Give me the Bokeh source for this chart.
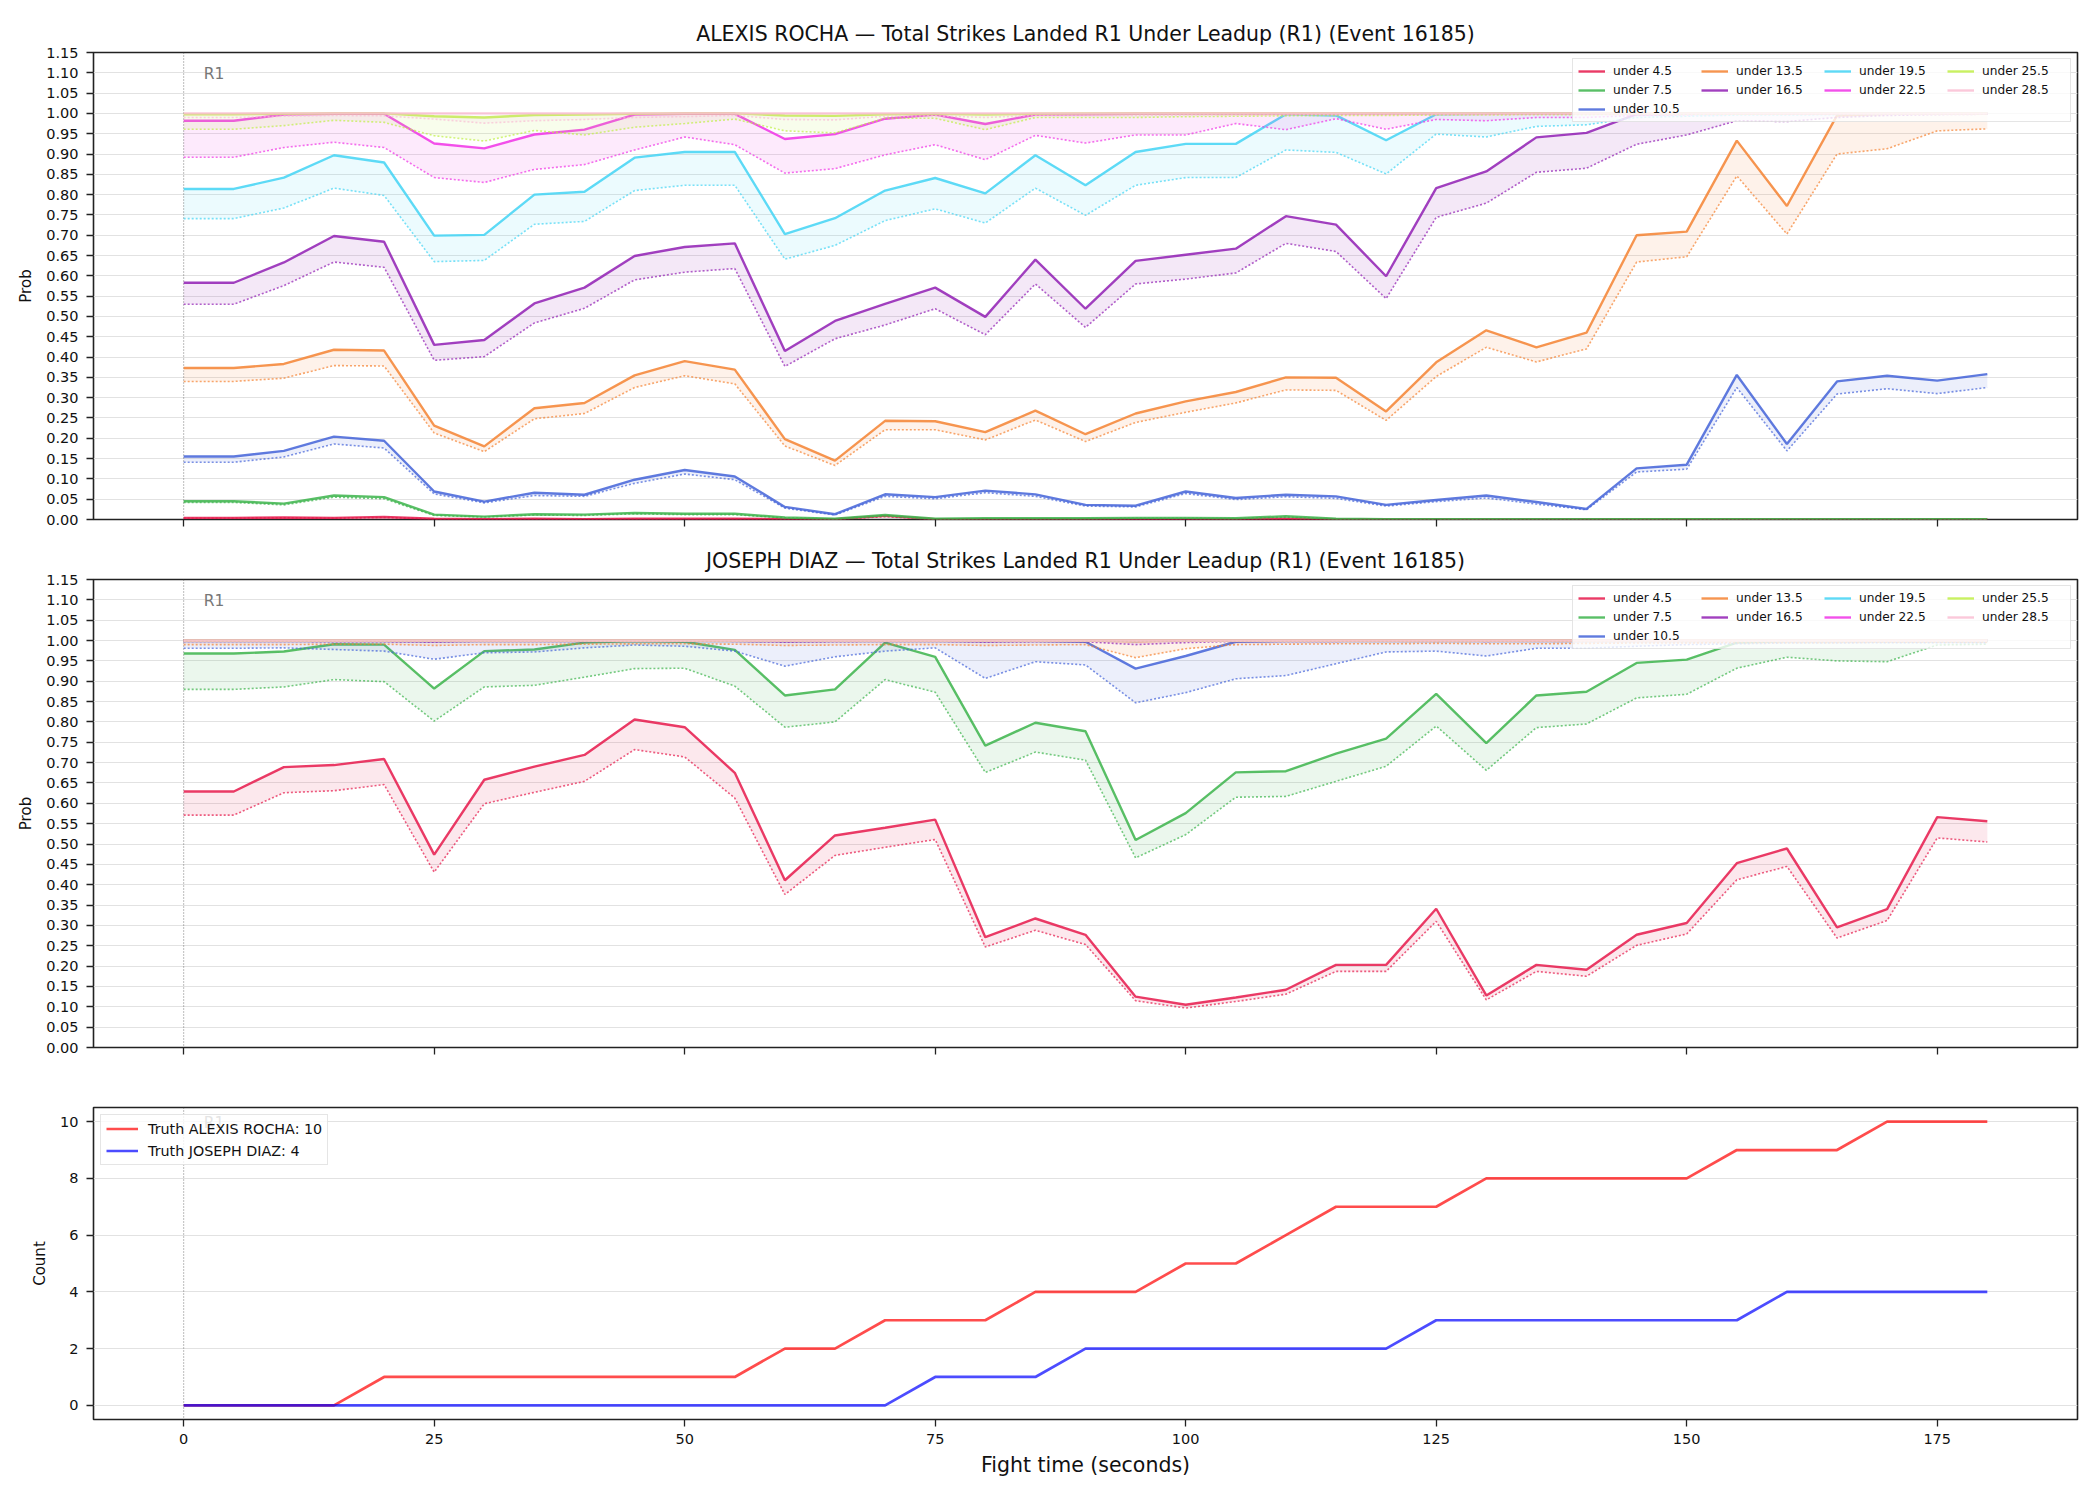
from bokeh.plotting import figure
from bokeh.layouts import column
from bokeh.models import (Range1d, FixedTicker, NumeralTickFormatter, CustomJSTickFormatter,
                          Legend, LegendItem, Span)
from bokeh.core.properties import value
from bokeh.embed import file_html
from bokeh.resources import INLINE

# ---------------- data ----------------
t = list(range(0, 185, 5))  # fight time (s)

line_labels = ["under 4.5", "under 7.5", "under 10.5", "under 13.5", "under 16.5",
               "under 19.5", "under 22.5", "under 25.5", "under 28.5"]
line_colors = ["#e6194B", "#3cb44b", "#4363d8", "#f58231", "#911eb4",
               "#42d4f4", "#f032e6", "#bfef45", "#fabed4"]

# ALEXIS ROCHA: solid (current) and dotted (lead-up) probabilities
r45_hi = [0.004, 0.004, 0.005, 0.004, 0.006, 0.002, 0.001, 0.002, 0.001, 0.002, 0.002, 0.002, 0.001, 0.001, 0.009, 0.001, 0.001, 0.001, 0.001, 0.001, 0.001, 0.001, 0.002, 0.001, 0.001, 0.001, 0.001, 0.001, 0.001, 0.001, 0.001, 0.001, 0.001, 0.001, 0.001, 0.001, 0.001]
r45_lo = [0.003, 0.003, 0.004, 0.003, 0.005, 0.001, 0.001, 0.001, 0.001, 0.001, 0.001, 0.001, 0.001, 0.0, 0.007, 0.0, 0.0, 0.0, 0.0, 0.0, 0.0, 0.0, 0.001, 0.0, 0.0, 0.0, 0.0, 0.0, 0.0, 0.0, 0.0, 0.0, 0.0, 0.0, 0.0, 0.0, 0.0]
r75_hi = [0.045, 0.045, 0.039, 0.059, 0.055, 0.012, 0.007, 0.013, 0.012, 0.016, 0.014, 0.014, 0.005, 0.002, 0.011, 0.002, 0.003, 0.003, 0.003, 0.004, 0.004, 0.003, 0.008, 0.002, 0.001, 0.001, 0.001, 0.001, 0.001, 0.001, 0.001, 0.001, 0.001, 0.001, 0.001, 0.001, 0.001]
r75_lo = [0.042, 0.042, 0.036, 0.055, 0.051, 0.010, 0.006, 0.011, 0.010, 0.014, 0.012, 0.012, 0.004, 0.001, 0.009, 0.001, 0.002, 0.002, 0.002, 0.003, 0.003, 0.002, 0.006, 0.001, 0.0005, 0.0005, 0.0005, 0.0005, 0.0005, 0.0005, 0.0005, 0.0005, 0.0005, 0.0005, 0.0005, 0.0005, 0.0005]
r105_hi = [0.155, 0.155, 0.169, 0.204, 0.194, 0.069, 0.044, 0.066, 0.061, 0.098, 0.122, 0.106, 0.031, 0.013, 0.062, 0.055, 0.071, 0.062, 0.036, 0.034, 0.069, 0.053, 0.061, 0.057, 0.036, 0.048, 0.059, 0.043, 0.026, 0.126, 0.135, 0.356, 0.186, 0.340, 0.354, 0.342, 0.358]
r105_lo = [0.141, 0.141, 0.154, 0.186, 0.176, 0.063, 0.041, 0.059, 0.057, 0.089, 0.112, 0.098, 0.028, 0.011, 0.057, 0.051, 0.066, 0.057, 0.033, 0.031, 0.064, 0.049, 0.056, 0.052, 0.033, 0.044, 0.053, 0.038, 0.024, 0.117, 0.124, 0.325, 0.169, 0.309, 0.322, 0.310, 0.325]
r135_hi = [0.373, 0.373, 0.383, 0.418, 0.416, 0.231, 0.180, 0.274, 0.287, 0.355, 0.390, 0.369, 0.198, 0.145, 0.243, 0.242, 0.215, 0.268, 0.210, 0.261, 0.291, 0.314, 0.350, 0.349, 0.266, 0.387, 0.466, 0.424, 0.460, 0.700, 0.709, 0.933, 0.772, 0.995, 0.999, 0.999, 0.999]
r135_lo = [0.340, 0.340, 0.348, 0.379, 0.378, 0.213, 0.167, 0.248, 0.261, 0.325, 0.354, 0.334, 0.181, 0.133, 0.221, 0.221, 0.196, 0.245, 0.192, 0.239, 0.264, 0.287, 0.319, 0.318, 0.244, 0.352, 0.424, 0.388, 0.420, 0.634, 0.647, 0.846, 0.703, 0.900, 0.913, 0.957, 0.962]
r165_hi = [0.583, 0.583, 0.633, 0.698, 0.684, 0.430, 0.442, 0.532, 0.571, 0.649, 0.671, 0.680, 0.415, 0.489, 0.531, 0.571, 0.499, 0.640, 0.519, 0.637, 0.652, 0.667, 0.747, 0.726, 0.599, 0.816, 0.857, 0.941, 0.952, 0.998, 0.999, 0.999, 0.999, 0.999, 0.999, 0.999, 0.999]
r165_lo = [0.530, 0.530, 0.576, 0.634, 0.621, 0.392, 0.401, 0.484, 0.520, 0.590, 0.609, 0.618, 0.377, 0.445, 0.479, 0.519, 0.455, 0.580, 0.473, 0.580, 0.592, 0.607, 0.680, 0.660, 0.544, 0.744, 0.779, 0.855, 0.865, 0.924, 0.947, 0.982, 0.980, 0.990, 0.995, 0.997, 0.998]
r195_hi = [0.814, 0.814, 0.842, 0.897, 0.879, 0.699, 0.701, 0.800, 0.807, 0.891, 0.905, 0.905, 0.703, 0.742, 0.810, 0.841, 0.803, 0.897, 0.823, 0.905, 0.925, 0.925, 0.998, 0.995, 0.934, 0.998, 0.999, 0.999, 0.999, 0.999, 0.999, 0.999, 0.999, 0.999, 0.999, 0.999, 0.999]
r195_lo = [0.741, 0.741, 0.767, 0.816, 0.798, 0.635, 0.638, 0.727, 0.734, 0.810, 0.823, 0.823, 0.641, 0.675, 0.736, 0.765, 0.730, 0.816, 0.749, 0.823, 0.842, 0.842, 0.910, 0.904, 0.851, 0.949, 0.942, 0.968, 0.972, 0.990, 0.993, 0.996, 0.996, 0.997, 0.998, 0.998, 0.998]
r225_hi = [0.982, 0.982, 0.997, 0.999, 0.999, 0.926, 0.914, 0.948, 0.960, 0.997, 0.999, 0.999, 0.937, 0.949, 0.987, 0.997, 0.974, 0.997, 0.998, 0.999, 0.999, 0.999, 0.999, 0.999, 0.999, 0.999, 0.999, 0.999, 0.999, 0.999, 0.999, 0.999, 0.999, 0.999, 0.999, 0.999, 0.999]
r225_lo = [0.892, 0.892, 0.916, 0.929, 0.916, 0.842, 0.830, 0.862, 0.874, 0.910, 0.942, 0.923, 0.853, 0.864, 0.898, 0.923, 0.886, 0.946, 0.927, 0.947, 0.947, 0.975, 0.960, 0.987, 0.961, 0.985, 0.982, 0.990, 0.990, 0.995, 0.997, 0.998, 0.998, 0.998, 0.999, 0.999, 0.999]
r255_hi = [0.998, 0.998, 0.999, 1.0, 1.0, 0.993, 0.990, 0.996, 0.997, 0.999, 1.0, 1.0, 0.995, 0.994, 0.998, 0.999, 0.997, 0.999, 1.0, 1.0, 1.0, 1.0, 1.0, 1.0, 1.0, 1.0, 1.0, 1.0, 1.0, 1.0, 1.0, 1.0, 1.0, 1.0, 1.0, 1.0, 1.0]
r255_lo = [0.961, 0.961, 0.970, 0.983, 0.978, 0.945, 0.932, 0.958, 0.947, 0.966, 0.975, 0.986, 0.957, 0.952, 0.988, 0.988, 0.960, 0.990, 0.990, 0.990, 0.992, 0.993, 0.994, 0.995, 0.995, 0.996, 0.996, 0.997, 0.997, 0.998, 0.998, 0.998, 0.999, 0.999, 0.999, 0.999, 0.999]
r285_hi = [1.0, 1.0, 1.0, 1.0, 1.0, 1.0, 1.0, 1.0, 1.0, 1.0, 1.0, 1.0, 1.0, 1.0, 1.0, 1.0, 1.0, 1.0, 1.0, 1.0, 1.0, 1.0, 1.0, 1.0, 1.0, 1.0, 1.0, 1.0, 1.0, 1.0, 1.0, 1.0, 1.0, 1.0, 1.0, 1.0, 1.0]
r285_lo = [0.990, 0.990, 0.993, 0.995, 0.994, 0.986, 0.976, 0.982, 0.985, 0.990, 0.992, 0.995, 0.985, 0.984, 0.993, 0.994, 0.990, 0.995, 0.995, 0.995, 0.996, 0.996, 0.996, 0.997, 0.997, 0.997, 0.997, 0.998, 0.998, 0.998, 0.998, 0.999, 0.999, 0.999, 0.999, 0.999, 0.999]

# JOSEPH DIAZ
d45_hi = [0.629, 0.629, 0.689, 0.694, 0.709, 0.474, 0.658, 0.690, 0.719, 0.806, 0.787, 0.675, 0.411, 0.521, 0.540, 0.560, 0.271, 0.317, 0.277, 0.125, 0.105, 0.123, 0.142, 0.203, 0.203, 0.341, 0.128, 0.203, 0.191, 0.277, 0.306, 0.453, 0.489, 0.295, 0.340, 0.566, 0.556]
d45_lo = [0.571, 0.571, 0.626, 0.631, 0.646, 0.431, 0.599, 0.627, 0.654, 0.732, 0.714, 0.613, 0.376, 0.472, 0.492, 0.511, 0.247, 0.288, 0.253, 0.115, 0.097, 0.113, 0.131, 0.187, 0.187, 0.310, 0.117, 0.187, 0.175, 0.251, 0.279, 0.412, 0.445, 0.269, 0.312, 0.515, 0.505]
d75_hi = [0.968, 0.968, 0.973, 0.991, 0.990, 0.882, 0.974, 0.978, 0.995, 0.999, 0.997, 0.977, 0.865, 0.880, 0.995, 0.960, 0.742, 0.798, 0.777, 0.510, 0.576, 0.676, 0.679, 0.722, 0.759, 0.869, 0.748, 0.865, 0.874, 0.945, 0.953, 0.995, 0.999, 0.999, 0.999, 0.999, 0.999]
d75_lo = [0.880, 0.880, 0.886, 0.904, 0.899, 0.802, 0.886, 0.890, 0.910, 0.931, 0.932, 0.888, 0.787, 0.800, 0.904, 0.873, 0.676, 0.726, 0.706, 0.466, 0.523, 0.615, 0.617, 0.654, 0.691, 0.790, 0.681, 0.786, 0.795, 0.859, 0.868, 0.932, 0.959, 0.950, 0.948, 0.989, 0.991]
d105_hi = [0.999, 0.999, 0.999, 0.999, 0.999, 0.998, 0.999, 0.999, 0.999, 0.999, 0.999, 0.999, 0.998, 0.999, 0.999, 0.999, 0.998, 0.999, 0.997, 0.931, 0.962, 0.997, 0.999, 0.999, 0.999, 0.999, 0.999, 0.999, 0.999, 0.999, 0.999, 0.999, 0.999, 0.999, 0.999, 0.999, 0.999]
d105_lo = [0.981, 0.981, 0.982, 0.978, 0.974, 0.954, 0.970, 0.972, 0.982, 0.989, 0.986, 0.974, 0.937, 0.960, 0.974, 0.982, 0.907, 0.948, 0.940, 0.847, 0.872, 0.906, 0.914, 0.943, 0.972, 0.974, 0.962, 0.981, 0.981, 0.986, 0.990, 0.992, 0.994, 0.994, 0.995, 0.995, 0.995]
d135_hi = [1.0, 1.0, 1.0, 1.0, 1.0, 1.0, 1.0, 1.0, 1.0, 1.0, 1.0, 1.0, 1.0, 1.0, 1.0, 1.0, 1.0, 1.0, 1.0, 0.998, 1.0, 1.0, 1.0, 1.0, 1.0, 1.0, 1.0, 1.0, 1.0, 1.0, 1.0, 1.0, 1.0, 1.0, 1.0, 1.0, 1.0]
d135_lo = [0.990, 0.990, 0.990, 0.991, 0.991, 0.988, 0.990, 0.990, 0.991, 0.992, 0.992, 0.991, 0.988, 0.989, 0.990, 0.990, 0.988, 0.989, 0.990, 0.958, 0.980, 0.990, 0.991, 0.992, 0.992, 0.993, 0.992, 0.992, 0.993, 0.994, 0.994, 0.995, 0.995, 0.995, 0.996, 0.996, 0.996]
d165_hi = [1.0, 1.0, 1.0, 1.0, 1.0, 1.0, 1.0, 1.0, 1.0, 1.0, 1.0, 1.0, 1.0, 1.0, 1.0, 1.0, 1.0, 1.0, 1.0, 1.0, 1.0, 1.0, 1.0, 1.0, 1.0, 1.0, 1.0, 1.0, 1.0, 1.0, 1.0, 1.0, 1.0, 1.0, 1.0, 1.0, 1.0]
d165_lo = [0.998, 0.998, 0.998, 0.997, 0.997, 0.996, 0.998, 0.998, 0.998, 0.999, 0.999, 0.998, 0.996, 0.997, 0.998, 0.998, 0.996, 0.997, 0.997, 0.990, 0.995, 0.998, 0.998, 0.998, 0.999, 0.999, 0.998, 0.999, 0.999, 0.999, 0.999, 0.999, 0.999, 0.999, 0.999, 0.999, 0.999]
d195_hi = [1.0] * 37
d195_lo = [0.999, 0.999, 0.999, 0.999, 0.999, 0.999, 0.999, 0.999, 0.999, 0.999, 0.999, 0.999, 0.999, 0.999, 0.999, 0.999, 0.999, 0.999, 0.999, 0.998, 0.999, 0.999, 0.999, 0.999, 0.999, 0.999, 0.999, 0.999, 0.999, 0.999, 0.999, 0.999, 0.999, 0.999, 0.999, 0.999, 0.999]
d225_hi = [1.0] * 37
d225_lo = [0.999] * 37
d255_hi = [1.0] * 37
d255_lo = [0.999] * 37
d285_hi = [1.0] * 37
d285_lo = [0.999] * 37

# cumulative truth counts
rocha_truth = [0, 0, 0, 0, 1, 1, 1, 1, 1, 1, 1, 1, 2, 2, 3, 3, 3, 4, 4, 4, 5, 5, 6, 7, 7, 7, 8, 8, 8, 8, 8, 9, 9, 9, 10, 10, 10]
diaz_truth = [0, 0, 0, 0, 0, 0, 0, 0, 0, 0, 0, 0, 0, 0, 0, 1, 1, 1, 2, 2, 2, 2, 2, 2, 2, 3, 3, 3, 3, 3, 3, 3, 4, 4, 4, 4, 4]

x_ticks = [0, 25, 50, 75, 100, 125, 150, 175]
prob_ticks = [round(0.05 * i, 2) for i in range(24)]
count_ticks = [0, 2, 4, 6, 8, 10]
round_starts = [0]
round_names = ["R1"]

rocha_hi = [r45_hi, r75_hi, r105_hi, r135_hi, r165_hi, r195_hi, r225_hi, r255_hi, r285_hi]
rocha_lo = [r45_lo, r75_lo, r105_lo, r135_lo, r165_lo, r195_lo, r225_lo, r255_lo, r285_lo]
diaz_hi = [d45_hi, d75_hi, d105_hi, d135_hi, d165_hi, d195_hi, d225_hi, d255_hi, d285_hi]
diaz_lo = [d45_lo, d75_lo, d105_lo, d135_lo, d165_lo, d195_lo, d225_lo, d255_lo, d285_lo]

FONT = "DejaVu Sans"
INK = "#222222"


def style(p, hide_x_labels):
    p.outline_line_color = INK
    p.outline_line_width = 1.6
    p.background_fill_color = "white"
    p.border_fill_color = "white"
    for ax in p.axis:
        ax.axis_line_color = None
        ax.major_tick_out = 7
        ax.major_tick_in = 0
        ax.minor_tick_out = 0
        ax.minor_tick_in = 0
        ax.major_tick_line_color = INK
        ax.major_tick_line_width = 1.3
        ax.major_label_text_font = FONT
        ax.major_label_text_font_size = "14.5px"
        ax.major_label_text_color = "#111111"
        ax.major_label_standoff = 8
        ax.axis_label_text_font = FONT
        ax.axis_label_text_font_style = "normal"
        ax.axis_label_text_color = "#111111"
    p.xgrid.visible = False
    p.ygrid.grid_line_color = "#e2e2e2"
    p.ygrid.grid_line_width = 1
    p.xaxis.ticker = FixedTicker(ticks=x_ticks)
    if hide_x_labels:
        p.xaxis.formatter = CustomJSTickFormatter(code="return ''")
        p.xaxis.major_label_text_font_size = "1px"
        p.xaxis.major_label_standoff = 0
    p.yaxis.axis_label_text_font_size = "15px"
    p.yaxis.axis_label_standoff = 8
    for rs in round_starts:
        p.add_layout(Span(location=rs, dimension="height", line_color="#444444",
                          line_alpha=0.7, line_width=1, line_dash="1 2", level="underlay"))


def prob_fig(title, hi, lo, height, top, bottom):
    p = figure(width=2100, height=height, x_range=Range1d(-9, 189), y_range=Range1d(0, 1.15),
               output_backend="svg", toolbar_location=None, title=title,
               min_border_left=93, min_border_right=23, min_border_top=top, min_border_bottom=bottom)
    p.title.text_font = FONT
    p.title.text_font_size = "20.5px"
    p.title.text_font_style = "normal"
    p.title.text_color = "#111111"
    p.title.align = "center"
    p.title.standoff = 13
    style(p, True)
    p.yaxis.ticker = FixedTicker(ticks=prob_ticks)
    p.yaxis.formatter = NumeralTickFormatter(format="0.00")
    p.yaxis.axis_label = "Prob"
    items = []
    for i in range(len(line_labels)):
        c = line_colors[i]
        p.varea(x=t, y1=lo[i], y2=hi[i], fill_color=c, fill_alpha=0.1)
        r = p.line(t, hi[i], line_color=c, line_width=2.4, line_alpha=0.85)
        p.line(t, lo[i], line_color=c, line_width=1.6, line_alpha=0.7, line_dash="2 2")
        items.append(LegendItem(label=line_labels[i], renderers=[r]))
    p.text(x=round_starts, y=[1.12], text=round_names, x_offset=20, text_font=value(FONT),
           text_font_size="15.5px", text_color="#777777", text_baseline="top", text_align="left")
    order = [0, 3, 5, 7, 1, 4, 6, 8, 2]
    leg = Legend(items=[items[k] for k in order], orientation="horizontal", ncols=4,
                 location="top_right", margin=6, padding=5, spacing=5,
                 glyph_width=27, glyph_height=14, label_standoff=8, label_width=83,
                 label_text_font=FONT, label_text_font_size="12.2px", label_text_color="#111111",
                 border_line_color="#cccccc", border_line_width=1.5,
                 background_fill_color="white", background_fill_alpha=0.8)
    p.add_layout(leg)
    return p


p1 = prob_fig("ALEXIS ROCHA \u2014 Total Strikes Landed R1 Under Leadup (R1) (Event 16185)",
              rocha_hi, rocha_lo, 539, 52, 20)
p2 = prob_fig("JOSEPH DIAZ \u2014 Total Strikes Landed R1 Under Leadup (R1) (Event 16185)",
              diaz_hi, diaz_lo, 528, 40, 20)

p3 = figure(width=2100, height=433, x_range=Range1d(-9, 189), y_range=Range1d(-0.5, 10.5),
            output_backend="svg", toolbar_location=None,
            min_border_left=93, min_border_right=23, min_border_top=40, min_border_bottom=81)
style(p3, False)
p3.xaxis.major_label_standoff = 7
p3.yaxis.ticker = FixedTicker(ticks=count_ticks)
p3.yaxis.axis_label = "Count"
p3.xaxis.axis_label = "Fight time (seconds)"
p3.xaxis.axis_label_text_font_size = "20.5px"
p3.xaxis.axis_label_standoff = 6
p3.text(x=round_starts, y=[10.28], text=round_names, x_offset=20, text_font=value(FONT),
        text_font_size="15.5px", text_color="#777777", text_baseline="top", text_align="left")
ra = p3.line(t, rocha_truth, line_color="red", line_alpha=0.7, line_width=2.7)
rb = p3.line(t, diaz_truth, line_color="blue", line_alpha=0.7, line_width=2.7)
leg3 = Legend(items=[LegendItem(label="Truth ALEXIS ROCHA: %d" % rocha_truth[-1], renderers=[ra]),
                     LegendItem(label="Truth JOSEPH DIAZ: %d" % diaz_truth[-1], renderers=[rb])],
              location="top_left", margin=7, padding=5, spacing=5,
              glyph_width=32, glyph_height=17, label_standoff=10,
              label_text_font=FONT, label_text_font_size="14.3px", label_text_color="#111111",
              border_line_color="#cccccc", border_line_width=1.5,
              background_fill_color="white", background_fill_alpha=0.8)
p3.add_layout(leg3)

layout = column(p1, p2, p3, spacing=0)
open("out.html", "w").write(file_html(layout, INLINE))
